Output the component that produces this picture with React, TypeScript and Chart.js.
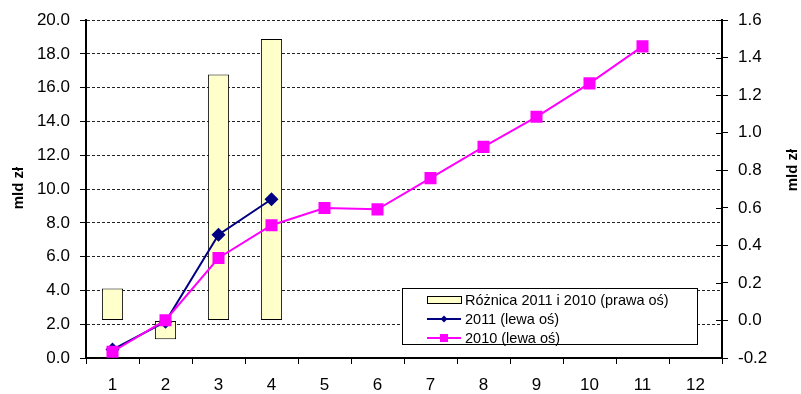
import { useEffect, useRef } from 'react';
import { Chart, registerables } from 'chart.js';

Chart.register(...registerables);

// Months 1..12
const categories = ['1', '2', '3', '4', '5', '6', '7', '8', '9', '10', '11', '12'];
// Difference 2011 vs 2010 (right axis, bn PLN)
const diff20112010 = [0.17, -0.1, 1.31, 1.5];
// Cumulative values (left axis, bn PLN)
const values2011 = [0.5, 2.15, 7.3, 9.4];
const values2010 = [0.37, 2.24, 5.92, 7.86, 8.88, 8.8, 10.65, 12.5, 14.28, 16.26, 18.45];

const legendLabels = ['Różnica 2011 i 2010 (prawa oś)', '2011 (lewa oś)', '2010 (lewa oś)'];
const axisTitle = 'mld zł';

const leftMin = 0;
const leftMax = 20;
const leftStep = 2;
const rightMin = -0.2;
const rightMax = 1.6;
const rightStep = 0.2;

const FONT = '"Liberation Sans", Arial, Helvetica, sans-serif';
const BAR_FILL = '#FFFFCC';
const NAVY = '#000080';
const MAGENTA = '#FF00FF';

const decorPlugin = {
  id: 'decor',
  afterDraw(chart: any) {
    const ctx: CanvasRenderingContext2D = chart.ctx;
    const area = chart.chartArea;
    const y1 = chart.scales.y1;
    ctx.save();

    // right axis tick marks cross the axis line
    ctx.strokeStyle = '#000';
    ctx.lineWidth = 1;
    y1.ticks.forEach((_t: any, i: number) => {
      const py = Math.round(y1.getPixelForTick(i)) + 0.5;
      ctx.beginPath();
      ctx.moveTo(area.right - 6, py);
      ctx.lineTo(area.right, py);
      ctx.stroke();
    });

    // vertical axis titles, both reading bottom to top
    ctx.font = `bold 15px ${FONT}`;
    ctx.fillStyle = '#000';
    ctx.textAlign = 'center';
    ctx.textBaseline = 'middle';
    const drawVertical = (x: number, y: number) => {
      ctx.save();
      ctx.translate(x, y);
      ctx.rotate(-Math.PI / 2);
      ctx.fillText(axisTitle, 0, 0);
      ctx.restore();
    };
    drawVertical(19, 188);
    drawVertical(793, 170);

    // legend box
    const bx = 402;
    const by = 288.5;
    const bw = 295;
    const bh = 56;
    ctx.fillStyle = '#fff';
    ctx.fillRect(bx, by, bw, bh);
    ctx.strokeStyle = '#000';
    ctx.lineWidth = 1;
    ctx.strokeRect(bx + 0.5, by, bw, bh);

    const sx0 = 427;
    const sx1 = 461;
    const sxm = (sx0 + sx1) / 2;
    const rows = [300, 319, 338];

    // bar sample
    ctx.fillStyle = BAR_FILL;
    ctx.fillRect(sx0, rows[0] - 4, sx1 - sx0, 7);
    ctx.strokeStyle = '#000';
    ctx.strokeRect(sx0 + 0.5, rows[0] - 4 + 0.5, sx1 - sx0, 7);

    // 2011 sample
    ctx.strokeStyle = NAVY;
    ctx.lineWidth = 2;
    ctx.beginPath();
    ctx.moveTo(sx0, rows[1]);
    ctx.lineTo(sx1, rows[1]);
    ctx.stroke();
    ctx.fillStyle = NAVY;
    ctx.beginPath();
    ctx.moveTo(sxm, rows[1] - 3.5);
    ctx.lineTo(sxm + 3.5, rows[1]);
    ctx.lineTo(sxm, rows[1] + 3.5);
    ctx.lineTo(sxm - 3.5, rows[1]);
    ctx.closePath();
    ctx.fill();

    // 2010 sample
    ctx.strokeStyle = MAGENTA;
    ctx.beginPath();
    ctx.moveTo(sx0, rows[2]);
    ctx.lineTo(sx1, rows[2]);
    ctx.stroke();
    ctx.fillStyle = MAGENTA;
    ctx.fillRect(sxm - 4, rows[2] - 4, 8, 8);

    // legend texts
    ctx.font = `14.5px ${FONT}`;
    ctx.fillStyle = '#000';
    ctx.textAlign = 'left';
    ctx.textBaseline = 'middle';
    legendLabels.forEach((label, i) => ctx.fillText(label, 465, rows[i] + 1));

    ctx.restore();
  },
};

export default function App() {
  const canvasRef = useRef<HTMLCanvasElement | null>(null);

  useEffect(() => {
    document.body.style.margin = '0';
    const canvas = canvasRef.current;
    if (!canvas) return;

    const tickFont = { family: FONT, size: 17 };

    const chart = new Chart(canvas, {
      type: 'bar',
      data: {
        labels: categories,
        datasets: [
          {
            type: 'line',
            label: legendLabels[2],
            data: values2010,
            yAxisID: 'y',
            borderColor: MAGENTA,
            backgroundColor: MAGENTA,
            borderWidth: 2,
            pointStyle: 'rect',
            pointRadius: 8.5,
            pointBorderWidth: 0,
            pointBackgroundColor: MAGENTA,
            tension: 0,
            order: 0,
          } as any,
          {
            type: 'line',
            label: legendLabels[1],
            data: values2011,
            yAxisID: 'y',
            borderColor: NAVY,
            backgroundColor: NAVY,
            borderWidth: 2,
            pointStyle: 'rectRot',
            pointRadius: 7,
            pointBorderWidth: 0,
            pointBackgroundColor: NAVY,
            tension: 0,
            order: 1,
          } as any,
          {
            type: 'bar',
            label: legendLabels[0],
            data: diff20112010,
            yAxisID: 'y1',
            backgroundColor: BAR_FILL,
            borderColor: '#000',
            borderWidth: 1,
            borderSkipped: false,
            categoryPercentage: 0.8,
            barPercentage: 0.5,
            order: 2,
          } as any,
        ],
      },
      options: {
        responsive: false,
        animation: false,
        events: [],
        layout: { padding: { top: 20, left: 0, right: 0, bottom: 0 } },
        plugins: {
          legend: { display: false },
          tooltip: { enabled: false },
          title: { display: false },
        },
        scales: {
          x: {
            type: 'category',
            offset: true,
            grid: {
              offset: true,
              drawOnChartArea: false,
              drawTicks: true,
              tickLength: 6,
              tickColor: '#000',
              tickWidth: 1,
            },
            border: { display: true, color: '#000', width: 2 },
            ticks: { color: '#000', font: tickFont, padding: 11, maxRotation: 0 },
            afterFit(scale: any) {
              scale.height = 36;
            },
          },
          y: {
            type: 'linear',
            position: 'left',
            min: leftMin,
            max: leftMax,
            grid: {
              drawOnChartArea: true,
              color: '#222',
              lineWidth: 1,
              tickLength: 6,
              tickColor: '#000',
              tickWidth: 1,
              tickBorderDash: [],
            } as any,
            border: { display: true, color: '#000', width: 2, dash: [3, 2] },
            ticks: {
              stepSize: leftStep,
              color: '#000',
              font: tickFont,
              padding: 10,
              callback: (v: any) => Number(v).toFixed(1),
            },
            afterFit(scale: any) {
              scale.width = 86;
            },
          },
          y1: {
            type: 'linear',
            position: 'right',
            min: rightMin,
            max: rightMax,
            grid: {
              drawOnChartArea: false,
              tickLength: 6,
              tickColor: '#000',
              tickWidth: 1,
            },
            border: { display: true, color: '#000', width: 2 },
            ticks: {
              stepSize: rightStep,
              color: '#000',
              font: tickFont,
              padding: 10,
              callback: (v: any) => Number(v).toFixed(1),
            },
            afterFit(scale: any) {
              scale.width = 79;
            },
          },
        },
      },
      plugins: [decorPlugin],
    });

    return () => chart.destroy();
  }, []);

  return (
    <div style={{ width: 801, height: 394, background: '#fff' }}>
      <canvas ref={canvasRef} width={801} height={394} style={{ display: 'block' }} />
    </div>
  );
}
